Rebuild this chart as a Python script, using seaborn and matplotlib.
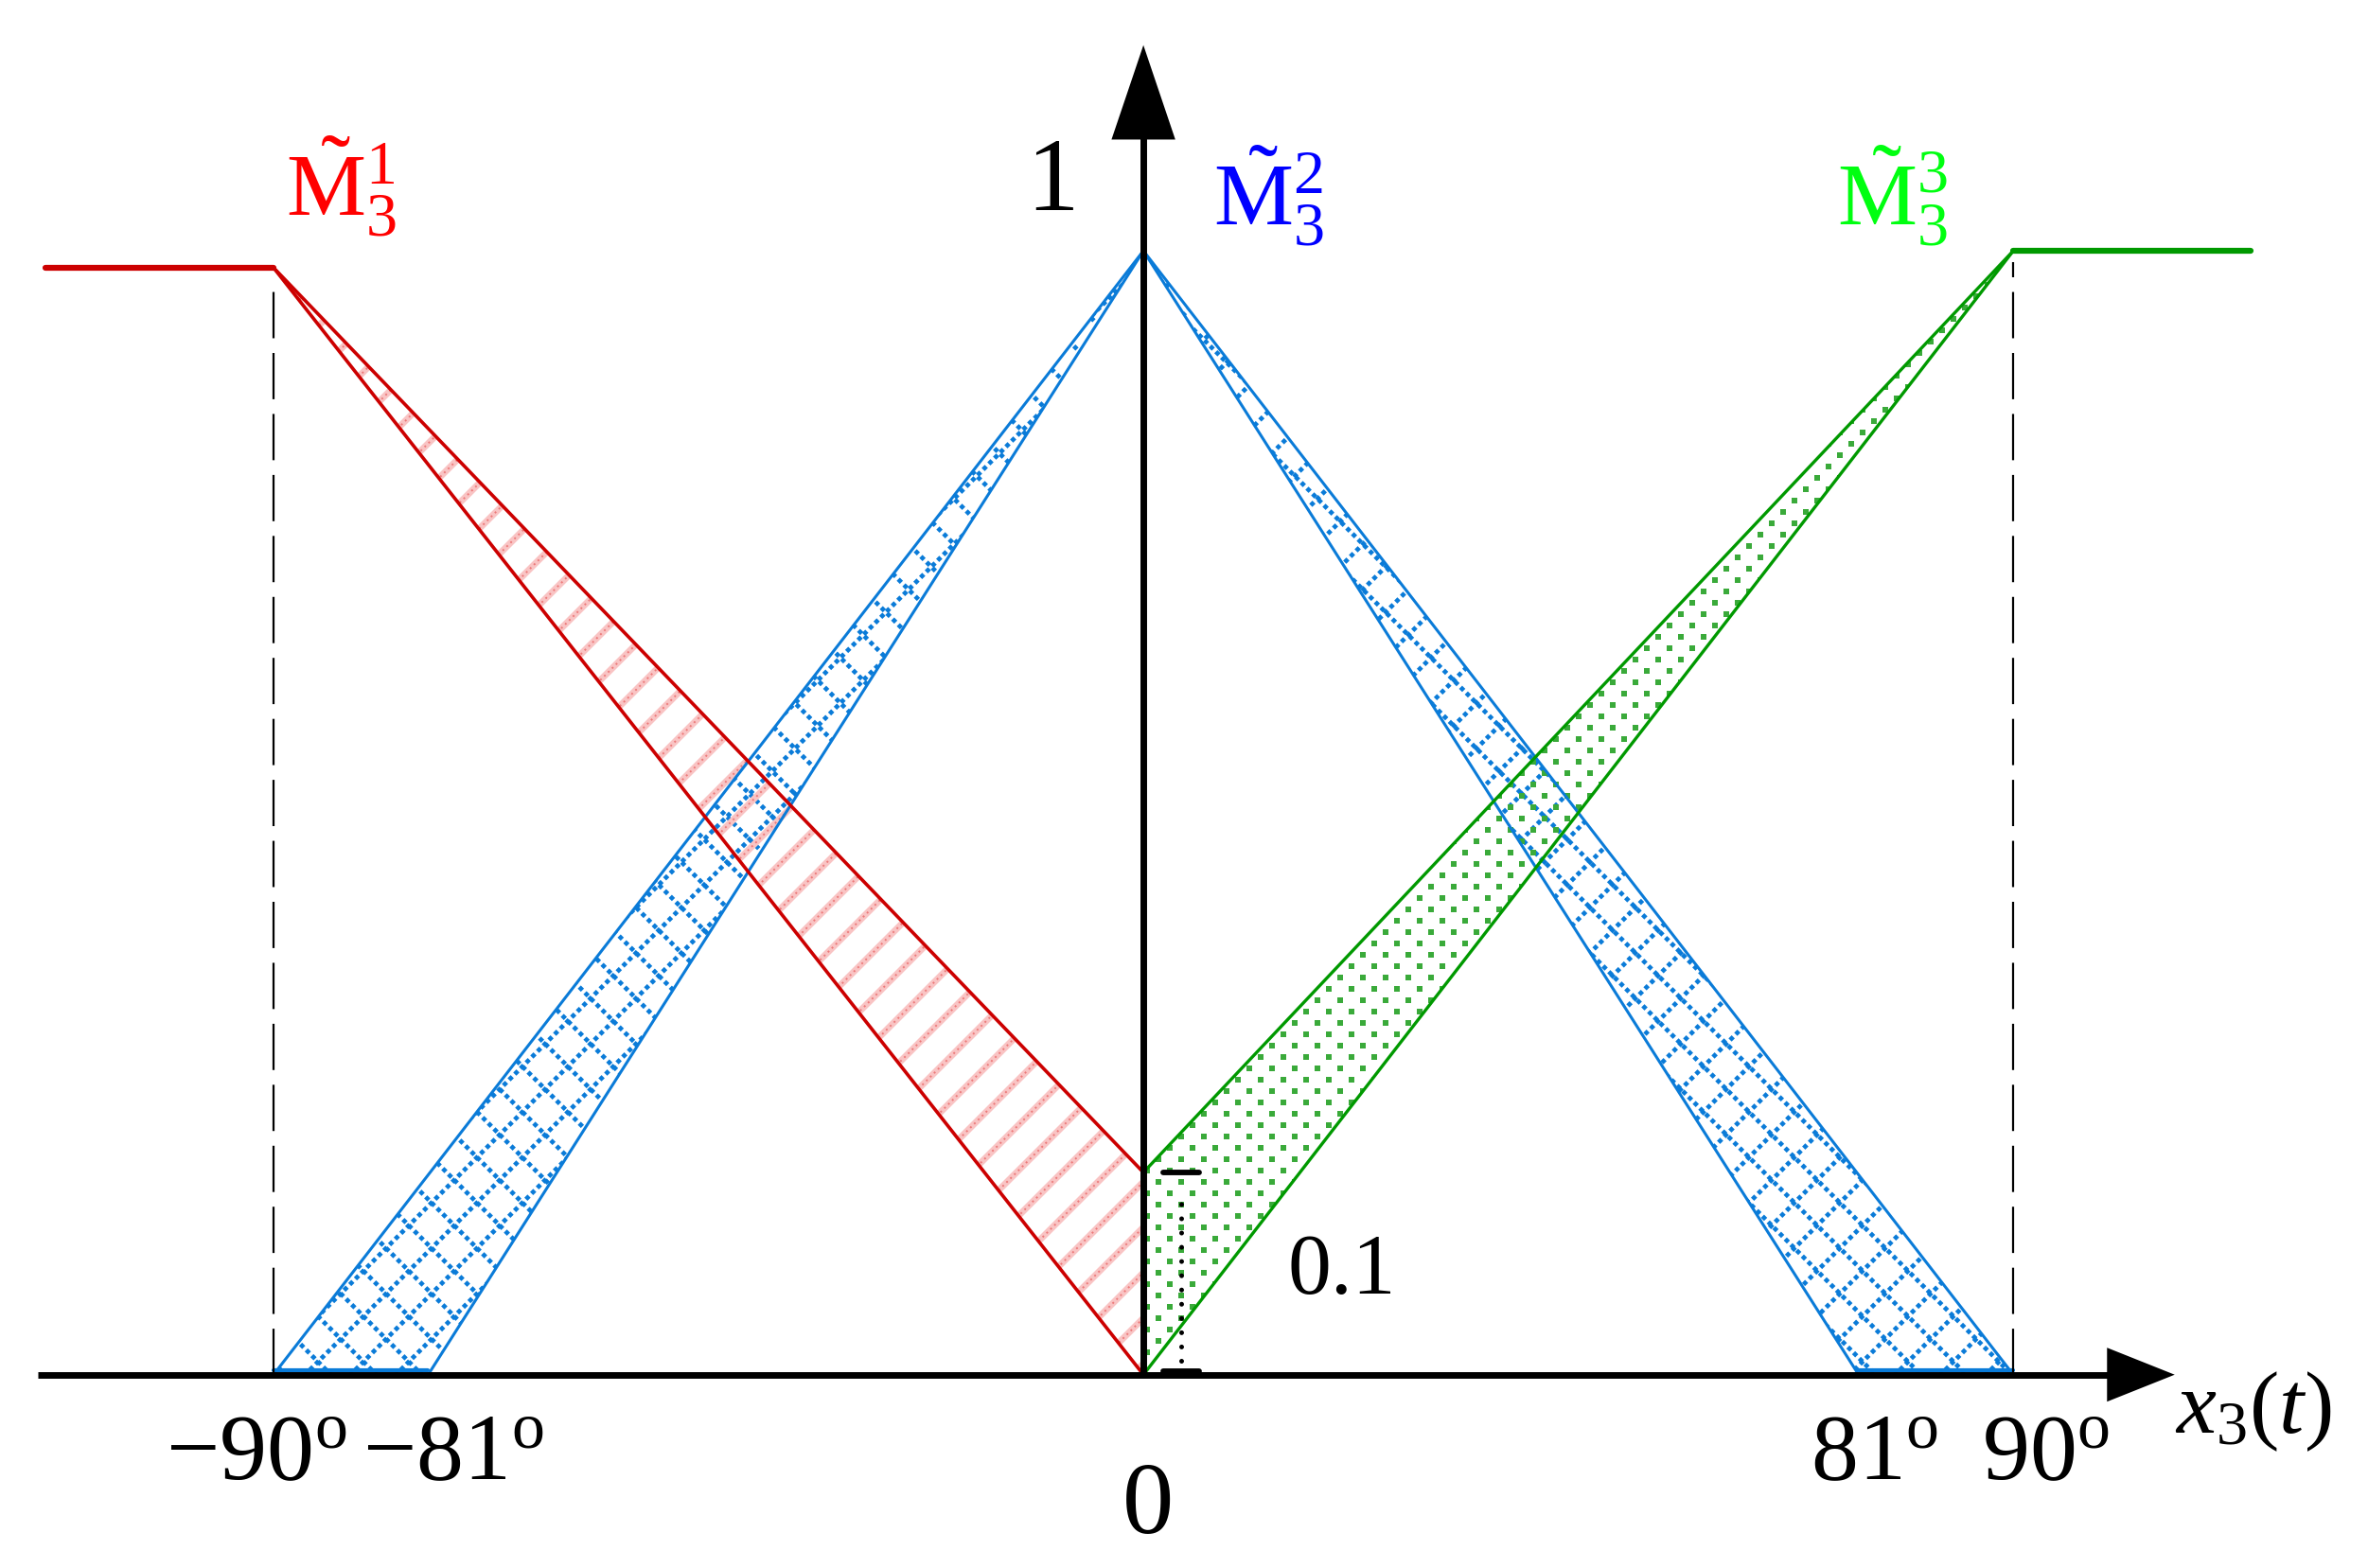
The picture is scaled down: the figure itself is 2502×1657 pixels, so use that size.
import matplotlib
matplotlib.use("Agg")
import matplotlib.pyplot as plt
from matplotlib.collections import LineCollection
import seaborn as sns
import numpy as np
import pandas as pd

# schematic positions (not to scale in the original)
tick_pos = [-90, -74, 74, 90]
tick_labels = ["\u2212$90^{\\mathrm{o}}$", "\u2212$81^{\\mathrm{o}}$",
               "$81^{\\mathrm{o}}$", "$90^{\\mathrm{o}}$"]
tick_text_x = [-91.8, -71.4, 75.6, 93.4]

# red set (left shoulder)
red_upper_x = [-90, 0, 0]
red_upper_y = [0.985, 0.18, 0.0]
red_lower_x = [-90, 0]
red_lower_y = [0.985, 0.0]
red_plateau_x = [-113.6, -90]
red_plateau_y = [0.985, 0.985]

# blue set (triangle)
blue_outer_x = [-90, 0, 90]
blue_outer_y = [0.0, 1.0, 0.0]
blue_inner_x = [-74, 0, 74]
blue_inner_y = [0.0, 1.0, 0.0]

# green set (right shoulder)
green_upper_x = [0, 90]
green_upper_y = [0.18, 1.0]
green_lower_x = [0, 90]
green_lower_y = [0.0, 1.0]
green_plateau_x = [90, 114.6]
green_plateau_y = [1.0, 1.0]

lmf_gap = 0.18   # drawn height of the "0.1" offset

RED, RED_TXT, PINK = "#cc0000", "#ff0000", "#f9c4c4"
BLUE, BLUE_TXT = "#0a7bd8", "#0000ff"
GREEN, GREEN_TXT = "#009900", "#00ff10"

W, H = 2502, 1658
XMIN, XMAX = -118.3, 126.7
YMIN, YMAX = -0.172, 1.224

sns.set_theme(style="white")
plt.rcParams["font.family"] = ["Liberation Serif", "DejaVu Serif"]
plt.rcParams["text.color"] = "black"
plt.rcParams["mathtext.fontset"] = "custom"
plt.rcParams["mathtext.rm"] = "Liberation Serif"
plt.rcParams["mathtext.it"] = "Liberation Serif:italic"

fig = plt.figure(figsize=(W / 100, H / 100), dpi=100)
ax = fig.add_axes([0, 0, 1, 1])
ax.set_xlim(XMIN, XMAX)
ax.set_ylim(YMIN, YMAX)
ax.axis("off")

sx = W / (XMAX - XMIN)   # px per data unit
sy = H / (YMAX - YMIN)


def line(xs, ys, color, lw, **kw):
    df = pd.DataFrame({"x": xs, "y": ys})
    sns.lineplot(data=df, x="x", y="y", ax=ax, color=color, lw=lw,
                 sort=False, estimator=None, legend=False, **kw)


def diag_lines(slope, step, offset=0.0):
    # 45 degree lines in pixel space, returned in data coordinates
    segs = []
    for c in np.arange(-W - H + offset, W + H, step):
        px = np.array([-50.0, W + 50.0])
        py = slope * px + c
        segs.append(np.column_stack([XMIN + px / sx, YMIN + py / sy]))
    return segs


def hatch_region(xs, ys, kind, color, z):
    poly = ax.fill(xs, ys, facecolor="none", lw=0, zorder=z)[0]
    if kind == "cross":
        segs = diag_lines(1, 48, 10) + diag_lines(-1, 48, 10)
        lc = LineCollection(segs, colors=color, lw=3.4,
                            linestyle=(0, (1.0, 0.8)), zorder=z)
        ax.add_collection(lc)
        lc.set_clip_path(poly)
    elif kind == "stripe":
        segs = diag_lines(1, 48)
        lc = LineCollection(segs, colors=PINK, lw=5.0, zorder=z)
        ax.add_collection(lc)
        lc.set_clip_path(poly)
        lc2 = LineCollection(segs, colors="#ec7a7a", lw=1.4,
                             linestyle=(0, (1, 2.0)), zorder=z)
        ax.add_collection(lc2)
        lc2.set_clip_path(poly)
    elif kind == "dots":
        gx, gy = np.meshgrid(np.arange(0, W, 24.0), np.arange(0, H, 12.0))
        gx = gx + 12.0 * (np.arange(gy.shape[0])[:, None] % 2)
        sc = ax.scatter(XMIN + gx.ravel() / sx, YMIN + gy.ravel() / sy,
                        s=13, marker="s", color="#3aaa3a", lw=0, zorder=z)
        sc.set_clip_path(poly)


# hatched footprints of uncertainty
hatch_region(blue_outer_x[:2] + blue_inner_x[:1],
             blue_outer_y[:2] + blue_inner_y[:1], "cross", BLUE, 1)
hatch_region(blue_outer_x[1:] + blue_inner_x[2:],
             blue_outer_y[1:] + blue_inner_y[2:], "cross", BLUE, 1)
hatch_region(red_upper_x, red_upper_y, "stripe", RED, 2)
hatch_region(green_lower_x[:1] + green_upper_x,
             green_lower_y[:1] + green_upper_y, "dots", GREEN, 2)

# boundary lines
line(blue_outer_x, blue_outer_y, BLUE, 2.2)
line(blue_inner_x, blue_inner_y, BLUE, 2.2)
line([blue_outer_x[0], blue_inner_x[0]], [0.004, 0.004], BLUE, 3)
line([blue_inner_x[-1], blue_outer_x[-1]], [0.004, 0.004], BLUE, 3)
line(red_upper_x, red_upper_y, RED, 2.6)
line(red_lower_x, red_lower_y, RED, 2.6)
line(red_plateau_x, red_plateau_y, RED, 4.5, solid_capstyle="round")
line(green_upper_x, green_upper_y, GREEN, 2.4)
line(green_lower_x, green_lower_y, GREEN, 2.4)
line(green_plateau_x, green_plateau_y, GREEN, 4.5, solid_capstyle="round")

# dashed guides at +-90
ax.plot([tick_pos[0]] * 2, [0, red_plateau_y[0] - 0.01], color="black",
        lw=1.6, dashes=(22, 7), zorder=3)
ax.plot([tick_pos[-1]] * 2, [0, green_plateau_y[0] - 0.01], color="black",
        lw=1.6, dashes=(22, 7), zorder=3)

# axes with arrowheads
x_left, x_tip, y_tip = -114.4, 106.7, 1.183
ax.plot([x_left, x_tip - 6], [0, 0], color="black", lw=5, zorder=5,
        solid_capstyle="butt")
ax.fill([x_tip - 7.0, x_tip, x_tip - 7.0], [0.024, 0, -0.024],
        color="black", lw=0, zorder=5)
ax.plot([0, 0], [0, y_tip - 0.06], color="black", lw=5, zorder=5,
        solid_capstyle="butt")
ax.fill([-3.3, 0, 3.3], [y_tip - 0.084, y_tip, y_tip - 0.084],
        color="black", lw=0, zorder=5)

# "0.1" bracket
bx = 3.9
ax.plot([bx, bx], [0.012, lmf_gap - 0.025], color="black", lw=3.6,
        ls=(0, (0.01, 3.0)), dash_capstyle="round", zorder=6)
ax.plot([bx - 1.9, bx + 1.9], [lmf_gap, lmf_gap], color="black", lw=4.2,
        zorder=6)
ax.plot([bx - 1.9, bx + 1.9], [0.003, 0.003], color="black", lw=4.2, zorder=6)
ax.text(20.5, 0.092, "0.1", fontsize=66, ha="center", va="center")

# tick labels
for tx, lab in zip(tick_text_x, tick_labels):
    ax.text(tx, -0.072, lab, fontsize=72, ha="center", va="center")
ax.text(0.5, -0.118, "0", fontsize=78, ha="center", va="center")
ax.text(-9.4, 1.06, "1", fontsize=80, ha="center", va="center")
ax.text(114.8, -0.032, "$x_3(t)$", fontsize=68, ha="center", va="center")

# set labels
ax.text(-83, 1.058, "$\\tilde{\\mathrm{M}}_3^1$", fontsize=68, color=RED_TXT,
        ha="center", va="center")
ax.text(13.0, 1.05, "$\\tilde{\\mathrm{M}}_3^2$", fontsize=68, color=BLUE_TXT,
        ha="center", va="center")
ax.text(77.5, 1.05, "$\\tilde{\\mathrm{M}}_3^3$", fontsize=68, color=GREEN_TXT,
        ha="center", va="center")

fig.savefig("out.png", dpi=100, facecolor="white")
